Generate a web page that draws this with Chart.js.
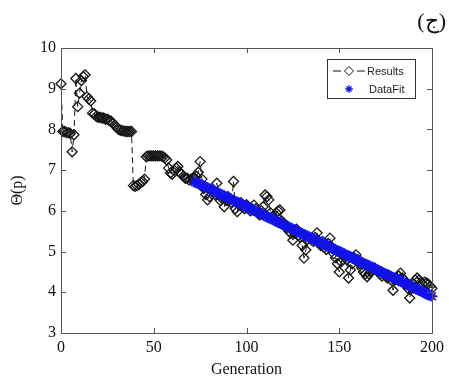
<!DOCTYPE html>
<html>
<head>
<meta charset="utf-8">
<script src="https://cdn.jsdelivr.net/npm/chart.js@4/dist/chart.umd.min.js"></script>
<style>
html,body{margin:0;padding:0;background:#fff;}
#wrap{width:449px;height:383px;position:relative;}
</style>
</head>
<body>
<div id="wrap"><canvas id="c" width="449" height="383"></canvas></div>
<script>
// ---- Data ----
const xTicks = [0, 50, 100, 150, 200];
const yTicks = [3, 4, 5, 6, 7, 8, 9, 10];
const resultsStart = 0;
const results = [
9.12,7.95,7.95,7.92,7.92,7.90,7.45,7.87,9.25,8.56,
8.89,9.20,9.30,9.34,8.80,8.75,8.70,8.40,8.38,8.32,
8.30,8.30,8.28,8.28,8.25,8.25,8.22,8.20,8.15,8.10,
8.05,8.00,7.98,7.97,7.96,7.95,7.95,7.95,7.95,6.62,
6.60,6.62,6.65,6.70,6.72,6.78,7.33,7.35,7.35,7.35,
7.35,7.35,7.35,7.35,7.35,7.33,7.30,7.25,7.05,6.93,
6.90,7.00,7.05,7.09,6.95,6.90,6.85,6.80,6.80,6.76,
6.78,6.80,6.80,6.85,6.95,7.21,6.78,6.55,6.40,6.27,
6.35,6.50,6.45,6.40,6.68,6.40,6.25,6.30,6.10,6.25,
6.35,6.30,6.20,6.72,6.05,5.98,6.15,6.20,6.10,6.05,
6.15,6.10,6.00,6.05,6.14,6.05,5.95,5.90,6.00,6.10,
6.39,6.35,6.27,5.95,5.85,5.80,5.95,6.00,6.02,5.75,
5.70,5.60,5.62,5.50,5.45,5.28,5.45,5.55,5.40,5.35,
5.15,4.84,5.04,5.30,5.35,5.30,5.25,5.35,5.46,5.20,
5.15,5.25,5.10,5.05,5.20,5.33,5.10,4.95,4.85,4.70,
4.50,4.75,4.90,4.85,4.80,4.35,4.55,4.70,4.85,4.92,
4.80,4.70,4.60,4.50,4.45,4.38,4.45,4.50,4.55,4.60,
4.55,4.50,4.45,4.40,4.45,4.40,4.35,4.40,4.30,4.05,
4.30,4.35,4.40,4.47,4.35,4.30,4.20,4.10,3.86,4.10,
4.20,4.30,4.35,4.30,4.25,4.20,4.25,4.23,4.20,4.15,
4.10
];
const fitStart = 72;
const dataFit = [
6.71,6.69,6.67,6.65,6.63,6.60,6.58,6.56,6.54,6.52,
6.49,6.47,6.45,6.43,6.41,6.38,6.36,6.34,6.32,6.30,
6.27,6.25,6.23,6.21,6.19,6.16,6.14,6.12,6.10,6.08,
6.05,6.03,6.01,5.99,5.97,5.94,5.92,5.90,5.88,5.86,
5.83,5.81,5.79,5.77,5.75,5.72,5.70,5.68,5.66,5.64,
5.61,5.59,5.57,5.55,5.53,5.50,5.48,5.46,5.44,5.42,
5.39,5.37,5.35,5.33,5.31,5.28,5.26,5.24,5.22,5.20,
5.17,5.15,5.13,5.11,5.09,5.06,5.04,5.02,5.00,4.98,
4.95,4.93,4.91,4.89,4.87,4.84,4.82,4.80,4.78,4.76,
4.73,4.71,4.69,4.67,4.65,4.62,4.60,4.58,4.56,4.54,
4.51,4.49,4.47,4.45,4.43,4.40,4.38,4.36,4.34,4.32,
4.29,4.27,4.25,4.23,4.21,4.18,4.16,4.14,4.12,4.10,
4.07,4.05,4.03,4.01,3.99,3.96,3.94,3.92,3.90
];
const seriesNames = ['Results', 'DataFit'];
const panelLabel = '(ج)';
const xTitle = 'Generation';
const yTitle = 'Θ(p)';

// ---- Styles ----
const serif = "'Liberation Serif','DejaVu Serif',serif";
const sans = "'Liberation Sans',Arial,sans-serif";
const fitBlue = '#1212e8';
const markBlack = '#151515';
const frameColor = '#555';

const resultsPts = results.map((v, i) => ({x: resultsStart + i, y: v}));
const fitPts = dataFit.map((v, i) => ({x: fitStart + i, y: v}));

const framePlugin = {
  id: 'frame',
  afterDatasetsDraw(chart) {
    const {ctx, chartArea: a, scales} = chart;
    ctx.save();
    ctx.strokeStyle = frameColor;
    ctx.lineWidth = 1;
    ctx.strokeRect(Math.round(a.left) + 0.5, Math.round(a.top) + 0.5,
      Math.round(a.right - a.left), Math.round(a.bottom - a.top));
    const tl = 5;
    ctx.beginPath();
    xTicks.forEach(t => {
      const px = Math.round(scales.x.getPixelForValue(t)) + 0.5;
      ctx.moveTo(px, a.bottom); ctx.lineTo(px, a.bottom - tl);
      ctx.moveTo(px, a.top); ctx.lineTo(px, a.top + tl);
    });
    yTicks.forEach(t => {
      const py = Math.round(scales.y.getPixelForValue(t)) + 0.5;
      ctx.moveTo(a.left, py); ctx.lineTo(a.left + tl, py);
      ctx.moveTo(a.right, py); ctx.lineTo(a.right - tl, py);
    });
    ctx.stroke();
    ctx.restore();
  },
  afterDraw(chart) {
    const {ctx} = chart;
    ctx.save();
    // legend box
    const bx = 327.5, by = 59.5, bw = 88, bh = 39;
    ctx.fillStyle = '#fff';
    ctx.fillRect(bx, by, bw, bh);
    ctx.strokeStyle = '#333';
    ctx.lineWidth = 1;
    ctx.strokeRect(bx, by, bw, bh);
    const y1 = 71, y2 = 89, mx = 349;
    ctx.strokeStyle = markBlack;
    ctx.beginPath();
    ctx.moveTo(333, y1); ctx.lineTo(341, y1);
    ctx.moveTo(357, y1); ctx.lineTo(365, y1);
    ctx.stroke();
    ctx.beginPath();
    const r = 4.5;
    ctx.moveTo(mx, y1 - r); ctx.lineTo(mx + r, y1); ctx.lineTo(mx, y1 + r); ctx.lineTo(mx - r, y1); ctx.closePath();
    ctx.stroke();
    ctx.strokeStyle = fitBlue;
    ctx.lineWidth = 1.3;
    const s = 3.8;
    ctx.beginPath();
    ctx.moveTo(mx - s, y2); ctx.lineTo(mx + s, y2);
    ctx.moveTo(mx, y2 - s); ctx.lineTo(mx, y2 + s);
    const d = s * 0.7;
    ctx.moveTo(mx - d, y2 - d); ctx.lineTo(mx + d, y2 + d);
    ctx.moveTo(mx - d, y2 + d); ctx.lineTo(mx + d, y2 - d);
    ctx.stroke();
    ctx.fillStyle = '#222';
    ctx.font = '11px ' + sans;
    ctx.textBaseline = 'middle';
    ctx.textAlign = 'left';
    ctx.fillText(seriesNames[0], 367, y1 + 0.5);
    ctx.fillText(seriesNames[1], 369, y2 + 0.5);
    ctx.fillStyle = '#111';
    ctx.font = '22px ' + serif;
    ctx.textAlign = 'right';
    ctx.textBaseline = 'middle';
    ctx.fillText(panelLabel, 446, 22);
    ctx.restore();
  }
};

new Chart(document.getElementById('c'), {
  type: 'scatter',
  data: {
    datasets: [
      {
        label: seriesNames[1],
        data: fitPts,
        showLine: false,
        pointStyle: 'star',
        pointRadius: 5.5,
        pointBorderWidth: 1.6,
        borderColor: fitBlue,
        backgroundColor: fitBlue,
        order: 0,
        clip: 12
      },
      {
        label: seriesNames[0],
        data: resultsPts,
        showLine: true,
        borderColor: markBlack,
        borderWidth: 1,
        borderDash: [6, 4],
        pointStyle: 'rectRot',
        pointRadius: 5,
        pointBorderWidth: 1.3,
        pointBorderColor: markBlack,
        pointBackgroundColor: 'rgba(255,255,255,0)',
        tension: 0,
        order: 1,
        clip: 12
      }
    ]
  },
  options: {
    responsive: false,
    animation: false,
    events: [],
    layout: {padding: {top: 48, right: 17, left: 0, bottom: 0}},
    plugins: {legend: {display: false}, tooltip: {enabled: false}},
    scales: {
      x: {
        type: 'linear', min: 0, max: 200,
        afterBuildTicks(scale) { scale.ticks = xTicks.map(v => ({value: v})); },
        afterFit(scale) { scale.height = 50; },
        grid: {display: false, drawTicks: false},
        border: {display: false},
        ticks: {padding: 5, color: '#111', font: {family: serif, size: 16}, maxRotation: 0, autoSkip: false},
        title: {display: true, text: xTitle, color: '#111', font: {family: serif, size: 16}, padding: {top: 0, bottom: 4}}
      },
      y: {
        type: 'linear', min: 3, max: 10,
        afterBuildTicks(scale) { scale.ticks = yTicks.map(v => ({value: v})); },
        afterFit(scale) { scale.width = 61; },
        grid: {display: false, drawTicks: false},
        border: {display: false},
        ticks: {padding: 5, color: '#111', font: {family: serif, size: 16}, autoSkip: false},
        title: {display: true, text: yTitle, color: '#111', font: {family: serif, size: 16}, padding: {top: 8, bottom: 0}}
      }
    }
  },
  plugins: [framePlugin]
});
</script>
</body>
</html>
